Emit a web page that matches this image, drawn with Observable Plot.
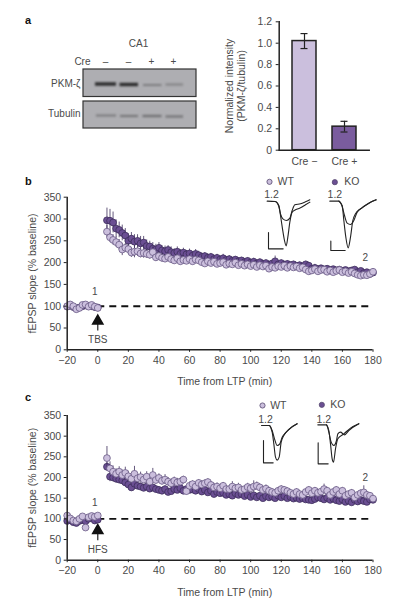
<!DOCTYPE html>
<html><head><meta charset="utf-8">
<script src="https://cdn.jsdelivr.net/npm/d3@7"></script>
<script src="https://cdn.jsdelivr.net/npm/@observablehq/plot@0.6"></script>
<style>
html,body{margin:0;padding:0;background:#fff}
#page{position:relative;width:400px;height:602px;overflow:hidden;font-family:"Liberation Sans",Arial,sans-serif;color:#4a4a4a}
#page svg{position:absolute;overflow:visible}
.letter{position:absolute;font-weight:bold;font-size:11px;color:#111}
</style></head><body><div id="page"></div>
<script>
const FONT='"Liberation Sans",Arial,sans-serif';
const wtFill="#cbbfdd", koFill="#6b4f93", wtEdge="#6a5b85", koEdge="#3e2f5c", ink="#4a4a4a";

// panel a: bars
const barCategories=["Cre −","Cre +"];
const barValues=[1.02,0.22];
const barErrors=[0.07,0.05];
const barTicks=[0,0.2,0.4,0.6,0.8,1.0,1.2];
const barFills=["#cbbfdd","#7a5c9e"];

// panel a: blot (arbitrary blot units)
const blotPanels=[{y1:0,y2:27.5},{y1:32,y2:59}];
const bandStart=[12,36.5,60,82.5,13,37,59.5,82.5];
const bandEnd=[33,55,78.5,100,33,55,78.5,100];
const bandCentre=[15,15.5,16,15.5,46.5,47,47,47.5];
const bandThick=[3.4,3.4,2,2,2,2,2.2,2.2];
const bandDark=[0.95,0.95,0.35,0.32,0.38,0.42,0.45,0.42];
const creLabels=["–","–","+","+"];
const creX=[105,128,151,173];

// times
const baseTimes=[-20,-18,-16,-14,-12,-10,-8,-6,-4,-2,0];
const postTimes=[6,8,10,12,14,16,18,20,22,24,26,28,30,32,34,36,38,40,42,44,46,48,50,52,54,56,58,60,62,64,66,68,70,72,74,76,78,80,82,84,86,88,90,92,94,96,98,100,102,104,106,108,110,112,114,116,118,120,122,124,126,128,130,132,134,136,138,140,142,144,146,148,150,152,154,156,158,160,162,164,166,168,170,172,174,176,178,180];
const xTicks=[-20,0,20,40,60,80,100,120,140,160,180];
const yTicks=[0,50,100,150,200,250,300,350];

// panel b
const bWTbase=[100,104,100,93,96,103,104,99,103,99,96];
const bKObase=[99,102,98,95,97,100,102,100,100,98,97];
const bWT=[271,258,252,247,241,230,234,231,223,225,
226,221,222,220,218,224,212,215,211,209,
213,208,205,210,203,206,204,208,203,207,
205,201,198,203,199,202,197,199,201,195,
198,196,200,194,197,193,196,192,195,190,
194,191,193,186,190,188,192,190,193,188,
192,189,191,187,189,184,180,182,185,180,
183,184,179,182,178,181,183,178,180,176,
179,175,172,170,172,171,174,179];
const bKO=[297,296,292,278,275,268,262,250,255,248,
250,244,246,238,237,232,230,234,228,226,
229,224,222,225,220,223,219,221,216,220,
217,213,215,211,213,208,211,207,210,206,
208,204,207,203,205,201,204,200,202,198,
201,197,199,195,198,203,196,199,195,197,
194,196,192,194,191,196,193,186,188,185,
187,184,186,183,185,182,184,181,183,180,
182,184,178,181,176,178,174,177];
const bWTerr=[14,12,12,12,12,14,10,12,11,14,
12,10,12,10,10,12,9,10,10,9,
9,10,8,9,8,9,8,9,8,8,
8,8,7,8,7,7,8,7,7,8,
7,7,7,7,6,7,6,7,6,7,
6,7,6,6,6,7,6,6,6,6,
6,6,5,6,5,6,5,6,5,5,
5,6,5,5,5,5,5,5,5,5,
5,5,5,5,5,5,5,6];
const bKOerr=[28,26,24,20,18,18,16,16,14,16,
14,16,14,14,12,14,12,12,11,12,
10,12,10,11,10,10,9,10,9,10,
9,9,8,9,8,9,8,8,9,8,
8,8,7,8,7,8,7,7,8,7,
7,8,7,7,7,12,7,7,8,7,
7,7,7,7,6,7,6,7,8,6,
6,7,6,6,6,7,6,6,6,6,
6,6,6,5,6,5,6,5];

// panel c
const cWTbase=[108,101,96,94,100,106,79,104,107,105,108];
const cKObase=[95,97,92,90,95,97,94,100,103,96,98];
const cWT=[247,222,214,209,214,206,211,203,197,209,
198,201,195,202,190,206,194,199,192,195,
190,186,192,188,190,195,167,180,184,178,
187,183,186,189,182,176,178,174,180,172,
172,178,174,176,170,172,177,174,178,180,
176,170,173,168,165,163,168,172,170,167,
163,160,165,160,158,165,170,162,168,163,
166,172,168,158,165,170,160,168,156,160,
163,152,158,162,164,158,156,149];
const cKO=[226,202,200,197,195,193,188,183,176,185,
180,178,175,178,173,176,172,170,168,172,
165,167,172,170,174,168,172,170,171,168,
172,166,170,164,168,160,165,162,163,158,
160,156,162,158,160,155,158,153,157,152,
156,150,155,152,154,150,156,152,155,150,
153,149,151,148,150,147,146,145,148,152,
150,147,151,146,149,145,143,147,141,144,
140,146,142,145,143,141,147,146];
const cWTerr=[28,16,14,12,12,12,14,12,10,18,
10,12,10,12,10,16,10,10,10,12,
10,10,9,10,9,8,9,9,8,10,
8,9,8,8,8,10,9,8,8,9,
8,12,9,10,8,8,9,8,14,9,
8,8,9,8,8,8,8,8,8,8,
8,8,8,7,8,8,8,8,8,8,
7,12,8,8,7,8,8,8,10,7,
8,7,7,8,16,8,7,7];
const cKOerr=[10,12,10,10,10,9,9,9,9,10,
9,9,8,9,8,8,8,8,8,8,
8,8,7,8,7,8,7,7,7,7,
7,8,7,7,7,7,7,7,7,7,
7,6,7,6,7,6,6,7,6,6,
6,6,6,6,6,6,6,6,6,6,
6,6,6,6,6,6,6,6,6,6,
6,6,6,6,6,6,6,6,6,6,
6,6,6,6,6,6,6,6];

// inset traces (arbitrary units, inset frame 0–600)
const traceB=[
 {id:"b1",x:[200,225,235,240,248,258,268,275,283,300,315,328],y:[92,93,108,130,146,150,143,120,103,100,94,88]},
 {id:"b2",x:[225,235,240,246,252,257,262,268,275,285,300,315,328],y:[93,105,135,175,210,226,200,155,125,118,112,103,95]},
 {id:"b3",x:[388,415,425,432,440,450,460,470,485,505,527],y:[92,92,108,135,158,162,150,125,112,98,88]},
 {id:"b4",x:[415,425,430,436,443,450,457,465,480,505,527],y:[92,105,150,200,232,200,150,130,115,98,88]}];
const scaleB=[
 {id:"bs1",x:[204,204,248],y:[186,235,235]},
 {id:"bs2",x:[391,391,434],y:[212,240,240]}];
const traceC=[
 {id:"c1",x:[183,207,215,222,230,238,245,255,270,290],y:[120,120,135,160,180,175,155,142,128,115]},
 {id:"c2",x:[207,215,220,225,230,236,242,250,265,290],y:[120,140,175,215,224,215,170,150,132,115]},
 {id:"c3",x:[352,378,385,392,400,408,412,420,432,445,475],y:[118,118,140,170,180,165,145,140,148,135,115]},
 {id:"c4",x:[378,385,390,395,399,405,412,430,450,475],y:[118,135,175,220,230,190,160,145,128,115]}];
const scaleC=[
 {id:"cs1",x:[189,189,218],y:[165,232,232]},
 {id:"cs2",x:[353,353,383],y:[172,235,235]}];

const page=document.getElementById("page");
function add(svg,left,top){svg.style.left=left+"px";svg.style.top=top+"px";page.appendChild(svg);return svg;}
function letter(t,x,y){const d=document.createElement("div");d.className="letter";d.textContent=t;d.style.left=x+"px";d.style.top=y+"px";page.appendChild(d);}
const baseStyle={background:"transparent",fontFamily:FONT,fontSize:"10px",color:ink};
const rows=(t,v,e)=>t.map((d,i)=>({t:d,v:v[i],e:e?e[i]:0}));

// --- bars
add(Plot.plot({
 width:160,height:165,marginLeft:63.7,marginRight:6.3,marginTop:21.3,marginBottom:15.3,
 style:baseStyle,
 x:{domain:barCategories,paddingInner:0.4,paddingOuter:0.3,axis:null},
 y:{domain:[0,1.2],axis:null},
 marks:[
  Plot.barY(barCategories.map((c,i)=>({c,v:barValues[i],f:barFills[i]})),{x:"c",y:"v",fill:"f",stroke:"#222",strokeWidth:1.5}),
  Plot.ruleX(barCategories.map((c,i)=>({c,a:barValues[i]-barErrors[i],b:barValues[i]+barErrors[i]})),{x:"c",y1:"a",y2:"b",stroke:"#222",strokeWidth:1.2}),
  Plot.tickY(barCategories.map((c,i)=>({c,a:barValues[i]+barErrors[i]})),{x:"c",y:"a",stroke:"#222",strokeWidth:1.2,insetLeft:8.5,insetRight:8.5}),
  Plot.tickY(barCategories.map((c,i)=>({c,a:barValues[i]-barErrors[i]})),{x:"c",y:"a",stroke:"#222",strokeWidth:1.2,insetLeft:8.5,insetRight:8.5}),
  Plot.frame({anchor:"bottom",stroke:"#222",strokeWidth:1.5}),
  Plot.frame({anchor:"left",stroke:"#222",strokeWidth:1.5}),
  Plot.axisY({ticks:barTicks,tickSize:3,tickPadding:4,label:null,tickFormat:d=>d===0?"0":d.toFixed(1),stroke:"#222",fill:ink,fontSize:10.5}),
  Plot.axisX({tickSize:0,tickPadding:7,label:null,fill:ink,fontSize:10.5}),
  Plot.text(["Normalized intensity"],{frameAnchor:"left",textAnchor:"middle",rotate:-90,dx:-50,fontSize:10.5,fill:ink}),
  Plot.text(["(PKM-ζ/tubulin)"],{frameAnchor:"left",textAnchor:"middle",rotate:-90,dx:-37.5,fontSize:10.5,fill:ink})
 ]
}),215,0);

// --- blot
const bands=bandStart.map((a,i)=>({a,b:bandEnd[i],c:bandCentre[i],h:bandThick[i],o:bandDark[i]}));
const blotSvg=add(Plot.plot({
 width:113,height:59,margin:0,style:baseStyle,
 x:{domain:[0,113],axis:null},y:{domain:[0,59],range:[0,59],axis:null},
 marks:[
  Plot.rect(blotPanels,{x1:0,x2:113,y1:"y1",y2:"y2",fill:"#aeaeb2",stroke:"#333",strokeWidth:1.2}),
  Plot.rect(bands,{x1:"a",x2:"b",y1:d=>d.c-d.h/2,y2:d=>d.c+d.h/2,fill:"#222",fillOpacity:"o"})
 ]
}),83,69);
blotSvg.querySelectorAll('g[aria-label="rect"]')[1].style.filter="blur(0.9px)";

// --- labels around the blot
add(Plot.plot({
 width:120,height:130,margin:0,style:baseStyle,
 x:{domain:[0,120],axis:null},y:{domain:[0,130],range:[0,130],axis:null},
 marks:[
  Plot.text(["CA1"],{x:[78],y:[43.7],fontSize:10,fill:ink}),
  Plot.text(["Cre"],{x:[30],y:[61],textAnchor:"end",fontSize:10,fill:ink}),
  Plot.text(["PKM-ζ"],{x:[20],y:[83.5],textAnchor:"end",fontSize:10,fill:ink}),
  Plot.text(["Tubulin"],{x:[20],y:[113],textAnchor:"end",fontSize:10,fill:ink}),
  Plot.text(creLabels,{x:creX.map(v=>v-60),y:creLabels.map(()=>61.5),fontSize:10,fill:ink})
 ]
}),60,0);

// --- time-course panels
function panel(o){
 const wtB=rows(baseTimes,o.wtBase), koB=rows(baseTimes,o.koBase);
 const wt=rows(postTimes,o.wt,o.wtErr), ko=rows(postTimes,o.ko,o.koErr);
 const dotOpts=(fill,stroke)=>({x:"t",y:"v",r:3.4,fill,stroke,strokeWidth:0.8});
 const errOpts=stroke=>({x:"t",y1:d=>d.v-d.e,y2:d=>d.v+d.e,stroke,strokeWidth:0.8});
 return Plot.plot({
  width:400,height:o.h,marginLeft:66.7,marginRight:27.5,marginTop:o.mt,marginBottom:o.mb,
  style:baseStyle,
  x:{domain:[-20,180],axis:null},y:{domain:[0,350],axis:null},
  marks:[
   Plot.ruleY([100],{x1:0,x2:180,stroke:"#111",strokeWidth:o.dashW,strokeDasharray:"7,5"}),
   Plot.ruleX(ko,errOpts(koEdge)),
   Plot.dot(koB,dotOpts(koFill,koEdge)),
   Plot.dot(ko,dotOpts(koFill,koEdge)),
   Plot.ruleX(wt,errOpts(koEdge)),
   Plot.dot(wtB,dotOpts(wtFill,wtEdge)),
   Plot.dot(wt,dotOpts(wtFill,wtEdge)),
   Plot.ruleX([-20],{y1:0,y2:350,stroke:"#222",strokeWidth:1.5}),
   Plot.ruleY([0],{x1:-20,x2:180,stroke:"#222",strokeWidth:1.5}),
   Plot.axisY({ticks:yTicks,tickSize:3,tickPadding:3,stroke:"#222",fill:ink,fontSize:10.5,label:null}),
   Plot.axisX({ticks:xTicks,tickSize:2.5,tickPadding:4,stroke:"#222",fill:ink,fontSize:10.5,label:null,tickFormat:d=>d<0?"−"+(-d):String(d)}),
   Plot.text(["fEPSP slope (% baseline)"],{frameAnchor:"left",textAnchor:"middle",rotate:-90,dx:-35,fontSize:10.5,fill:ink}),
   Plot.text(["Time from LTP (min)"],{frameAnchor:"bottom",x:83,dy:o.xlab,fontSize:10.5,fill:ink}),
   Plot.text(["1"],{x:[-2],y:[o.oneY],fontSize:10,fill:ink}),
   Plot.text(["2"],{x:[175],y:[o.twoY],fontSize:10,fill:ink}),
   Plot.text([o.stim],{x:[0],y:[o.stimY],fontSize:10,fill:ink}),
   Plot.ruleX([0],{y1:o.arrow[0],y2:o.arrow[1],stroke:"#222",strokeWidth:1.2}),
   Plot.dot([0],{x:d=>d,y:()=>o.arrow[2],symbol:"triangle",r:3.8,fill:"#111",stroke:"#111"})
  ]
 });
}
add(panel({h:202,mt:16.7,mb:32.7,wtBase:bWTbase,koBase:bKObase,wt:bWT,ko:bKO,wtErr:bWTerr,koErr:bKOerr,dashW:2,oneY:132,twoY:211,stim:"TBS",stimY:24,arrow:[43,62,66],xlab:35.5}),0,180);
add(panel({h:192,mt:15,mb:32.3,wtBase:cWTbase,koBase:cKObase,wt:cWT,ko:cKO,wtErr:cWTerr,koErr:cKOerr,dashW:1.6,oneY:140,twoY:199,stim:"HFS",stimY:24,arrow:[47,62,72],xlab:35.3}),0,400);

// --- insets
function inset(traces,scaleBars,names,numbers,legendDots){
 const flat=list=>list.flatMap(s=>s.x.map((x,i)=>({id:s.id,x,y:s.y[i]})));
 return Plot.plot({
  width:200,height:200,margin:0,style:baseStyle,
  x:{domain:[0,600],axis:null},y:{domain:[0,600],range:[0,200],axis:null},
  marks:[
   Plot.line(flat(traces),{x:"x",y:"y",z:"id",stroke:"#222",strokeWidth:1.1,curve:"monotone-x"}),
   Plot.line(flat(scaleBars),{x:"x",y:"y",z:"id",stroke:"#222",strokeWidth:1.1}),
   Plot.dot(legendDots,{x:"x",y:"y",r:2.6,fill:"f",stroke:"#55486e",strokeWidth:0.8}),
   Plot.text(names,{x:"x",y:"y",text:"t",textAnchor:"start",fontSize:10.5,fill:ink}),
   Plot.text(numbers,{x:"x",y:"y",text:"t",textAnchor:"middle",fontSize:10.5,fill:ink})
  ]
 });
}
add(inset(traceB,scaleB,
 [{t:"WT",x:231,y:32},{t:"KO",x:431,y:34}],
 [{t:"1.2",x:213,y:71},{t:"1.2",x:403,y:71}],
 [{x:207,y:34,f:wtFill},{x:403,y:35,f:koFill}]),200,170);
add(inset(traceC,scaleC,
 [{t:"WT",x:209,y:60},{t:"KO",x:389,y:56}],
 [{t:"1.2",x:195,y:102},{t:"1.2",x:370,y:102}],
 [{x:186,y:60,f:wtFill},{x:364,y:58,f:koFill}]),200,385);

letter("a",25,14);letter("b",25,175);letter("c",25,391);
</script></body></html>
